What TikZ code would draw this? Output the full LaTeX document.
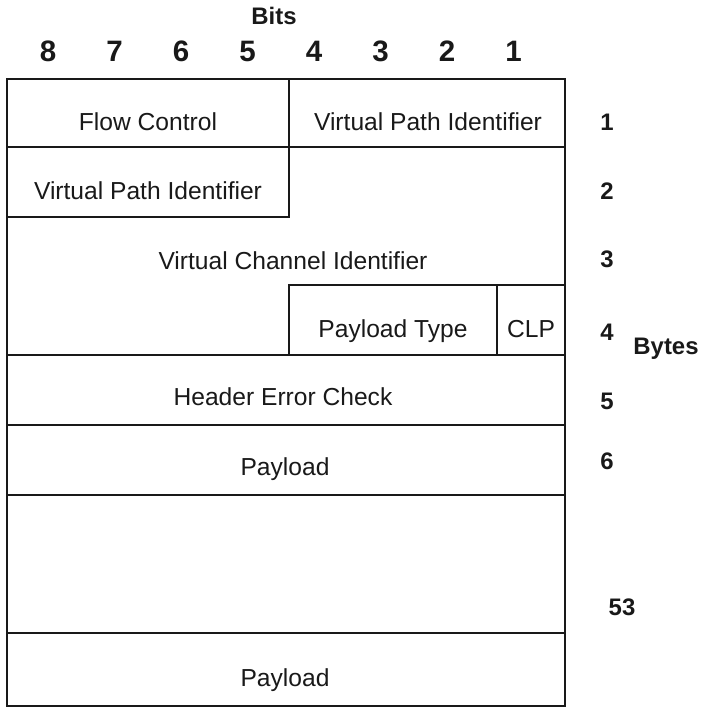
\documentclass[tikz,border=0pt]{standalone}
\usepackage{fontspec}
\setmainfont{Liberation Sans}
\usetikzlibrary{positioning}
\definecolor{inkcol}{RGB}{25,25,25}

\begin{document}
\begin{tikzpicture}[
    cellline/.style={draw=inkcol, line width=1.6pt},
    field/.style={text=inkcol, font=\fontsize{17.5}{21}\selectfont,
                  anchor=base, inner sep=0pt},
    bitnum/.style={text=inkcol, font=\fontsize{21}{25}\selectfont\bfseries,
                   anchor=base, inner sep=0pt},
    bytenum/.style={text=inkcol, font=\fontsize{17}{20}\selectfont\bfseries,
                    anchor=base, inner sep=0pt},
    axislabel/.style={text=inkcol, font=\fontsize{17}{21}\selectfont\bfseries,
                      anchor=base, inner sep=0pt},
]

\path[use as bounding box] (0,0) rectangle (17.55,17.7);

% ════════════════════════════════════════════════════════
% 0. BIT NUMBERS
% ════════════════════════════════════════════════════════
\node[axislabel] (bits) at (6.85, 17.075) {Bits};
\foreach \b [count=\k from 0] in {8,7,6,5,4,3,2,1}{
    \node[bitnum] (bit\b) at ({1.2+\k*1.6625}, 16.15) {\b};
}

% ════════════════════════════════════════════════════════
% 1. CELL FRAME
% ════════════════════════════════════════════════════════
\coordinate (NW) at (0.175, 15.725);
\coordinate (SE) at (14.125, 0.05);
\draw[cellline] (NW) rectangle (SE);

% full-width byte rows
\foreach \y in {14.025, 8.825, 7.075, 5.325, 1.875}{
    \draw[cellline] (0.175, \y) -- (14.125, \y);
}

% flow control / path identifier split
\draw[cellline] (7.225, 15.725) -- (7.225, 12.275) -- (0.175, 12.275);

% payload type and CLP
\draw[cellline] (7.225, 8.825) -- (7.225, 10.575) -- (14.125, 10.575);
\draw[cellline] (12.425, 10.575) -- (12.425, 8.825);

% ════════════════════════════════════════════════════════
% 2. FIELD LABELS
% ════════════════════════════════════════════════════════
\node[field] (gfc)  at (3.7, 14.425)   {Flow Control};
\node[field] (vpia) at (10.7, 14.425)  {Virtual Path Identifier};
\node[field] (vpib) at (3.7, 12.7)     {Virtual Path Identifier};
\node[field] (vci)  at (7.325, 10.95)  {Virtual Channel Identifier};
\node[field] (pt)   at (9.825, 9.25)   {Payload Type};
\node[field] (clp)  at (13.275, 9.25)  {CLP};
\node[field] (hec)  at (7.075, 7.55)   {Header Error Check};
\node[field] (pla)  at (7.125, 5.8)    {Payload};
\node[field] (plb)  at (7.125, 0.525)  {Payload};

% ════════════════════════════════════════════════════════
% 3. BYTE NUMBERS
% ════════════════════════════════════════════════════════
\foreach \n/\y in {1/14.425, 2/12.7, 3/11.0, 4/9.175, 5/7.45, 6/5.95}{
    \node[bytenum] (byte\n) at (15.175, \y) {\n};
}
\node[bytenum] (byte53) at (15.55, 2.3) {53};
\node[axislabel] (bytes) at (16.65, 8.825) {Bytes};

\end{tikzpicture}
\end{document}
